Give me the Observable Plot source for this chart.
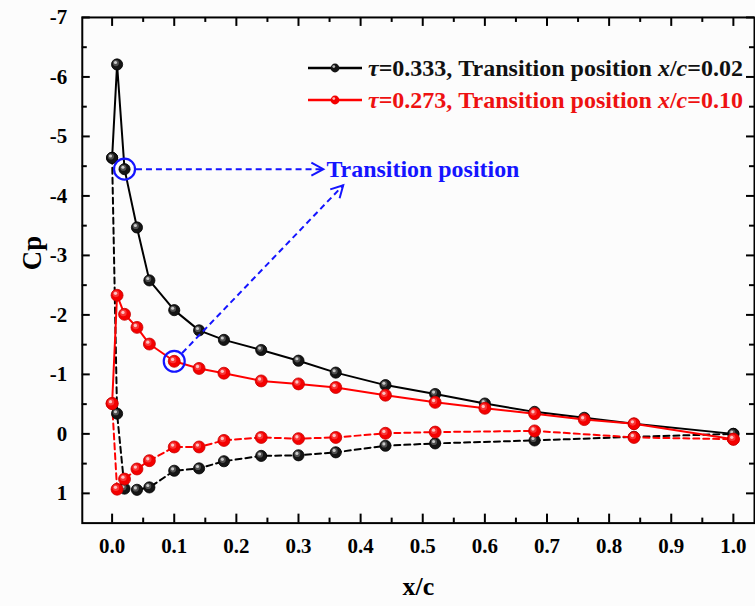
<!DOCTYPE html>
<html>
<head>
<meta charset="utf-8">
<script src="https://cdn.jsdelivr.net/npm/d3@7"></script>
<script src="https://cdn.jsdelivr.net/npm/@observablehq/plot@0.6"></script>
<style>
html, body { margin: 0; padding: 0; background: #fcfcfc; overflow: hidden; }
#wrap { position: relative; width: 755px; height: 606px; overflow: hidden;
  font-family: "Liberation Serif", "Times New Roman", serif; font-weight: bold; }
#legend { position: absolute; left: 306px; top: 52px; font-size: 24px; }
.row { display: flex; align-items: center; height: 32px; white-space: nowrap; }
.row svg { margin-right: 4px; flex: none; }
</style>
</head>
<body>
<div id="wrap"><div id="chart"></div><div id="legend"></div></div>
<script>
// ---------- data ----------
const xUpper = [0, 0.008, 0.02, 0.04, 0.06, 0.10, 0.14, 0.18, 0.24, 0.30, 0.36, 0.44, 0.52, 0.60, 0.68, 0.76, 0.84, 1.00];
const cpUpperBlack = [-4.64, -6.21, -4.45, -3.47, -2.58, -2.08, -1.74, -1.58, -1.41, -1.23, -1.03, -0.82, -0.67, -0.51, -0.37, -0.27, -0.17, 0.00];
const cpUpperRed   = [-0.51, -2.33, -2.01, -1.79, -1.51, -1.22, -1.10, -1.02, -0.89, -0.84, -0.78, -0.65, -0.53, -0.43, -0.34, -0.24, -0.17, 0.09];

const xLowerBlack  = [0, 0.008, 0.02, 0.04, 0.06, 0.10, 0.14, 0.18, 0.24, 0.30, 0.36, 0.44, 0.52, 0.68, 0.84, 1.00];
const cpLowerBlack = [-4.64, -0.34, 0.92, 0.94, 0.90, 0.62, 0.58, 0.46, 0.37, 0.36, 0.31, 0.20, 0.16, 0.11, 0.05, 0.00];
const xLowerRed    = [0, 0.008, 0.02, 0.04, 0.06, 0.10, 0.14, 0.18, 0.24, 0.30, 0.36, 0.44, 0.52, 0.68, 0.84, 1.00];
const cpLowerRed   = [-0.51, 0.93, 0.76, 0.59, 0.45, 0.22, 0.22, 0.11, 0.06, 0.08, 0.06, -0.01, -0.03, -0.05, 0.06, 0.09];

const seriesTau = ["0.333", "0.273"];
const seriesTransition = ["0.02", "0.10"];
const seriesColor = ["#000000", "#ff0000"];

// annotation: transition points (taken from the data) and arrow tips
const transitionIndex = [2, 5]; // black at x/c=0.02, red at x/c=0.10
const arrowTipX  = [0.340, 0.372];
const arrowTipCp = [-4.45, -4.18];
const annotationText = "Transition position";
const annotationX = 0.345;
const annotationCp = -4.45;

const xMajor = d3.range(0, 11).map(i => i / 10);
const xMinor = d3.range(0, 10).map(i => i / 10 + 0.05);
const yMajor = d3.range(-7, 2);
const yMinor = d3.range(-7, 1).map(v => v + 0.5);

// ---------- tidy tables ----------
const upperBlack = xUpper.map((x, i) => ({x, cp: cpUpperBlack[i]}));
const upperRed   = xUpper.map((x, i) => ({x, cp: cpUpperRed[i]}));
const lowerBlack = xLowerBlack.map((x, i) => ({x, cp: cpLowerBlack[i]}));
const lowerRed   = xLowerRed.map((x, i) => ({x, cp: cpLowerRed[i]}));
const transitions = [
  {x: xUpper[transitionIndex[0]], cp: cpUpperBlack[transitionIndex[0]]},
  {x: xUpper[transitionIndex[1]], cp: cpUpperRed[transitionIndex[1]]}
];
const arrows = transitions.map((t, i) => ({x1: t.x, y1: t.cp, x2: arrowTipX[i], y2: arrowTipCp[i]}));

const W = 757, H = 606, ML = 82, MR = 1, MT = 17, MB = 82;
const frameW = W - ML - MR, frameH = H - MT - MB;
const BLUE = "#1414ff";

const chevron = {
  draw(context, l) {
    context.moveTo(-6.5, 0);
    context.lineTo(0, -l);
    context.lineTo(6.5, 0);
  }
};

function sphereDots(data, color, edge, hi, r) {
  return [
    Plot.dot(data, {x: "x", y: "cp", r, fill: color, stroke: edge, strokeWidth: 0.8}),
    Plot.dot(data, {x: "x", y: "cp", r: r * 0.55, fill: hi, fillOpacity: 0.35, dx: -1.2, dy: -1.4}),
    Plot.dot(data, {x: "x", y: "cp", r: r * 0.28, fill: "#ffffff", fillOpacity: 0.7, dx: -1.6, dy: -1.9})
  ];
}

function build(heads) {
  return Plot.plot({
    width: W, height: H,
    marginLeft: ML, marginRight: MR, marginTop: MT, marginBottom: MB,
    x: {domain: [-0.048, 1.034]},
    y: {domain: [1.5, -7]},
    style: {background: "transparent", fontFamily: "Liberation Serif, Times New Roman, serif",
            fontWeight: "bold", fontSize: "21px", color: "#000"},
    marks: [
      // ticks (inward, all four sides)
      Plot.ruleX(xMajor, {stroke: "#000", strokeWidth: 2, insetTop: frameH - 9}),
      Plot.ruleX(xMinor, {stroke: "#000", strokeWidth: 2, insetTop: frameH - 5}),
      Plot.ruleX(xMajor, {stroke: "#000", strokeWidth: 2, insetBottom: frameH - 9}),
      Plot.ruleX(xMinor, {stroke: "#000", strokeWidth: 2, insetBottom: frameH - 5}),
      Plot.ruleY(yMajor, {stroke: "#000", strokeWidth: 2, insetRight: frameW - 8}),
      Plot.ruleY(yMinor, {stroke: "#000", strokeWidth: 2, insetRight: frameW - 5}),
      Plot.ruleY(yMajor, {stroke: "#000", strokeWidth: 2, insetLeft: frameW - 8}),
      Plot.ruleY(yMinor, {stroke: "#000", strokeWidth: 2, insetLeft: frameW - 5}),
      Plot.frame({stroke: "#000", strokeWidth: 2}),
      Plot.axisX(xMajor, {tickSize: 0, tickPadding: 15, tickFormat: d => d.toFixed(1), fontSize: 21, label: null}),
      Plot.axisY(yMajor, {tickSize: 0, tickPadding: 15, tickFormat: d => String(d), fontSize: 21, label: null}),
      Plot.text(["x/c"], {frameAnchor: "bottom", dy: 72, text: d => d, fontSize: 26}),
      Plot.text(["Cp"], {frameAnchor: "left", dx: -50, rotate: -90, text: d => d, fontSize: 27}),
      // lower surface (dashed)
      Plot.line(lowerBlack, {x: "x", y: "cp", stroke: seriesColor[0], strokeWidth: 2, strokeDasharray: "6,4"}),
      Plot.line(lowerRed, {x: "x", y: "cp", stroke: seriesColor[1], strokeWidth: 2, strokeDasharray: "6,4"}),
      // upper surface (solid)
      Plot.line(upperBlack, {x: "x", y: "cp", stroke: seriesColor[0], strokeWidth: 2}),
      Plot.line(upperRed, {x: "x", y: "cp", stroke: seriesColor[1], strokeWidth: 2}),
      ...sphereDots(lowerBlack, "#151515", "#000", "#bdbdbd", 5.6),
      ...sphereDots(upperBlack, "#151515", "#000", "#bdbdbd", 5.6),
      ...sphereDots(lowerRed, "#f40000", "#c80000", "#ff9a9a", 6),
      ...sphereDots(upperRed, "#f40000", "#c80000", "#ff9a9a", 6),
      // annotation
      Plot.dot(transitions, {x: "x", y: "cp", r: 10.5, stroke: BLUE, strokeWidth: 2.2, fill: "none"}),
      Plot.arrow(arrows, {x1: "x1", y1: "y1", x2: "x2", y2: "y2", stroke: BLUE, strokeWidth: 2,
        strokeDasharray: "6,4", strokeLinecap: "butt", headLength: 0, insetStart: 11.5}),
      Plot.vector(heads, {x: "x", y: "cp", rotate: "angle", length: 12, anchor: "end", shape: chevron,
        stroke: BLUE, strokeWidth: 2, fill: "none", strokeLinecap: "butt", strokeLinejoin: "miter"}),
      Plot.text([annotationText], {x: () => annotationX, y: () => annotationCp, text: d => d,
        textAnchor: "start", fill: BLUE, fontSize: 24})
    ]
  });
}

const probe = build([]);
const sx = probe.scale("x"), sy = probe.scale("y");
const heads = arrows.map(a => {
  const dx = sx.apply(a.x2) - sx.apply(a.x1);
  const dy = sy.apply(a.y2) - sy.apply(a.y1);
  return {x: a.x2, cp: a.y2, angle: Math.atan2(dx, -dy) * 180 / Math.PI};
});
document.getElementById("chart").appendChild(build(heads));

// ---------- legend ----------
const legend = document.getElementById("legend");
seriesTau.forEach((tau, i) => {
  const row = document.createElement("div");
  row.className = "row";
  const c = seriesColor[i];
  row.innerHTML =
    `<svg width="58" height="20"><line x1="2" x2="56" y1="10" y2="10" stroke="${c}" stroke-width="2.4"/>` +
    `<circle cx="29" cy="10" r="4.4" fill="${i === 0 ? "#151515" : "#f40000"}"/>` +
    `<circle cx="27.8" cy="8.6" r="1.4" fill="#ffffff" fill-opacity="0.7"/></svg>` +
    `<span style="color:${i === 0 ? "#111" : "#ee1111"}"><i>τ</i>=${tau}, Transition position <i>x</i>/<i>c</i>=${seriesTransition[i]}</span>`;
  legend.appendChild(row);
});
</script>
</body>
</html>
